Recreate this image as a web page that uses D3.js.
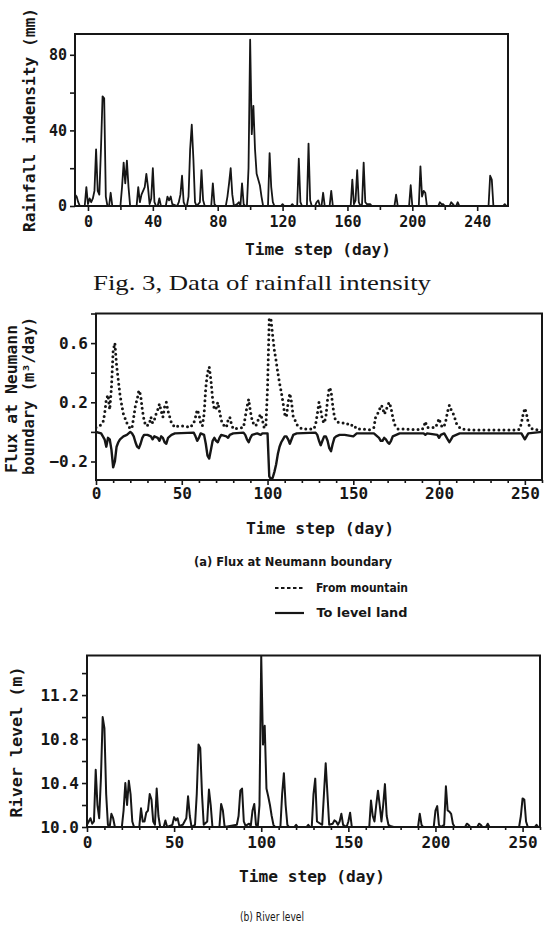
<!DOCTYPE html>
<html><head><meta charset="utf-8">
<script src="https://cdn.jsdelivr.net/npm/d3@7"></script>
<style>
body{margin:0;background:#fff;}
svg{display:block;}
</style></head><body>
<svg id="fig" width="551" height="926"></svg>
<script>
// ---------- Fig. 3 : rainfall intensity (mm) ----------
const rainDay = [-8,-7,-6,-5,-3,-2,-1,0,1,2,3,4,5,6,7,8,9,10,11,12,13,14,15,20,21,22,23,24,25,26,30,31,32,33,34,35,36,37,38,39,40,41,42,43,44,45,48,49,50,51,52,55,56,57,58,59,60,61,62,63,64,65,66,67,68,69,70,71,72,76,77,78,79,85,86,87,88,89,90,92,93,94,95,96,97,98,99,100,101,102,103,104,105,106,107,108,111,112,113,114,115,119,120,121,125,126,127,129,130,131,132,135,136,137,138,140,141,142,143,144,145,146,149,150,151,162,163,164,165,166,167,168,169,170,171,172,173,174,175,189,190,191,198,199,200,204,205,206,207,208,209,216,217,218,219,220,223,224,225,226,227,228,229,247,248,249,250,256,257,258,259];
const rainMm  = [6,5,2,0,0,0,10,1,4,2,4,8,30,8,6,30,58,57,5,0,0,7,0,0,10,23,12,24,10,0,0,10,2,6,8,10,17,10,1,4,20,2,0,0,4,0,0,5,3,5,1,0,2,6,16,2,0,0,5,30,43,25,2,0,1,2,19,3,0,0,12,1,0,0,5,12,20,6,0,1,2,0,12,1,0,0,20,88,38,53,30,17,14,11,5,0,0,28,10,2,0,0,1,0,0,1,0,0,25,2,0,0,33,3,0,0,2,3,0,0,7,0,0,8,0,0,14,1,3,19,2,0,1,23,2,1,1,1,0,0,6,0,0,11,0,0,21,5,8,7,0,0,2,1,1,0,0,2,1,0,0,2,0,0,16,14,0,0,1,0,0];
const rainXTicks = [0,40,80,120,160,200,240];
const rainYTicks = [0,40,80];

// ---------- (a) Flux at Neumann boundary (m3/day) ----------
const mtnDay = [0,2,4,5,6,7,8,9,10,11,12,13,14,15,16,18,20,21,22,23,24,25,26,27,28,29,31,32,33,34,35,36,37,38,39,40,41,42,43,44,46,48,52,55,57,58,59,60,61,62,63,64,65,66,67,68,69,70,71,72,73,74,76,77,78,79,80,86,87,88,89,90,91,92,93,94,95,96,97,98,99,100,101,102,103,104,105,106,107,108,109,110,111,112,113,114,115,116,117,118,120,127,128,129,130,131,132,133,134,135,136,137,138,139,140,143,146,148,150,152,160,162,163,164,165,166,167,168,169,170,171,172,173,174,176,190,191,192,193,198,199,200,201,202,203,204,205,206,207,208,209,210,211,213,220,246,247,248,249,250,251,252,253,255,260];
const mtnFlux = [0.03,0.04,0.06,0.12,0.22,0.25,0.15,0.3,0.55,0.6,0.45,0.35,0.25,0.18,0.12,0.06,0.02,0.03,0.1,0.18,0.22,0.28,0.25,0.15,0.08,0.04,0.05,0.1,0.06,0.08,0.12,0.15,0.19,0.14,0.1,0.17,0.2,0.14,0.1,0.06,0.03,0.04,0.04,0.03,0.06,0.1,0.15,0.12,0.06,0.04,0.12,0.3,0.4,0.44,0.35,0.22,0.15,0.16,0.2,0.14,0.08,0.05,0.03,0.08,0.1,0.05,0.02,0.03,0.1,0.17,0.22,0.14,0.08,0.05,0.04,0.06,0.1,0.12,0.08,0.03,0.03,0.3,0.77,0.76,0.65,0.55,0.48,0.4,0.33,0.27,0.2,0.12,0.1,0.2,0.26,0.2,0.1,0.08,0.05,0.04,0.02,0.02,0.05,0.12,0.2,0.15,0.08,0.06,0.1,0.22,0.3,0.28,0.18,0.1,0.07,0.06,0.06,0.04,0.05,0.02,0.015,0.03,0.1,0.12,0.14,0.18,0.17,0.12,0.14,0.18,0.2,0.16,0.1,0.05,0.02,0.015,0.03,0.07,0.03,0.03,0.06,0.09,0.05,0.03,0.04,0.08,0.14,0.18,0.15,0.13,0.1,0.06,0.04,0.02,0.012,0.012,0.02,0.06,0.12,0.16,0.12,0.06,0.03,0.015,0.012];
const landDay = [0,3,5,6,7,8,9,10,11,12,13,14,16,18,20,21,22,23,24,25,26,27,28,30,32,33,34,36,37,38,39,40,41,42,44,46,57,58,59,60,61,63,64,65,66,67,68,69,70,71,72,73,76,77,78,80,86,87,88,89,90,91,94,96,97,100,101,102,103,104,105,106,107,108,109,110,111,112,113,114,115,117,128,129,130,131,132,133,134,135,136,137,138,139,140,142,145,150,152,162,164,165,166,167,168,169,170,171,172,173,175,177,191,192,193,199,200,201,203,205,206,207,208,210,212,248,249,250,251,252,260];
const landFlux = [0,-0.01,-0.05,-0.1,-0.04,-0.05,-0.12,-0.24,-0.2,-0.1,-0.07,-0.05,-0.03,-0.02,0,-0.01,-0.03,-0.07,-0.1,-0.11,-0.08,-0.04,-0.02,-0.02,-0.03,-0.05,-0.03,-0.04,-0.06,-0.03,-0.04,-0.07,-0.08,-0.04,-0.02,-0.01,-0.005,-0.03,-0.06,-0.04,-0.01,-0.02,-0.08,-0.16,-0.18,-0.12,-0.06,-0.04,-0.06,-0.07,-0.04,-0.02,-0.03,-0.04,-0.02,-0.01,-0.005,-0.02,-0.05,-0.07,-0.04,-0.02,-0.01,-0.02,-0.01,-0.01,-0.3,-0.32,-0.31,-0.27,-0.22,-0.15,-0.1,-0.07,-0.05,-0.03,-0.03,-0.05,-0.08,-0.05,-0.02,-0.01,-0.005,-0.02,-0.06,-0.09,-0.06,-0.03,-0.03,-0.06,-0.11,-0.13,-0.08,-0.04,-0.03,-0.02,-0.02,-0.03,-0.01,-0.01,-0.03,-0.04,-0.06,-0.06,-0.04,-0.05,-0.07,-0.08,-0.06,-0.03,-0.02,-0.01,-0.01,-0.02,-0.01,-0.02,-0.04,-0.02,-0.01,-0.05,-0.07,-0.05,-0.03,-0.02,-0.01,-0.01,-0.03,-0.05,-0.03,-0.01,0];
const fluxXTicks = [0,50,100,150,200,250];
const fluxYTicks = [-0.2,0.2,0.6];
const fluxYMinor = [0,0.4,0.8];

// ---------- (b) River level (m) ----------
const riverDay = [0,1,2,3,4,5,6,7,8,9,10,11,12,13,14,15,16,20,21,22,23,24,25,26,27,30,31,32,33,34,35,36,37,38,39,40,41,42,44,45,46,49,50,51,52,53,55,56,57,58,59,60,62,63,64,65,66,67,69,70,71,72,76,77,78,79,86,87,88,89,90,91,93,94,95,96,97,98,99,100,101,102,103,104,105,106,107,108,111,112,113,114,115,116,119,120,121,126,127,128,129,130,131,132,135,136,137,138,139,141,142,143,144,145,146,147,149,150,151,152,162,163,164,165,166,167,168,169,170,171,172,173,174,176,190,191,192,193,199,200,201,202,203,205,206,207,208,209,210,211,217,218,219,220,224,225,226,227,229,230,231,248,249,250,251,252,253,257,258,259,260];
const riverLevel = [10.02,10.05,10.08,10.03,10.05,10.52,10.2,10.08,10.45,11.0,10.9,10.3,10.02,10.0,10.12,10.08,10.0,10.0,10.15,10.4,10.2,10.42,10.3,10.05,10.0,10.0,10.17,10.05,10.05,10.13,10.15,10.3,10.25,10.05,10.02,10.35,10.1,10.0,10.0,10.06,10.0,10.02,10.09,10.06,10.08,10.01,10.02,10.05,10.08,10.28,10.1,10.0,10.02,10.3,10.75,10.72,10.3,10.02,10.05,10.34,10.2,10.0,10.0,10.21,10.15,10.0,10.02,10.1,10.33,10.35,10.05,10.01,10.03,10.01,10.15,10.21,10.02,10.0,10.2,11.56,10.75,10.92,10.35,10.28,10.2,10.1,10.02,10.0,10.0,10.3,10.49,10.2,10.02,10.0,10.0,10.02,10.0,10.0,10.02,10.0,10.0,10.3,10.44,10.05,10.02,10.3,10.58,10.3,10.02,10.03,10.06,10.05,10.02,10.05,10.12,10.02,10.0,10.05,10.13,10.0,10.0,10.24,10.1,10.05,10.2,10.33,10.2,10.05,10.2,10.39,10.1,10.02,10.01,10.0,10.0,10.12,10.02,10.0,10.0,10.15,10.19,10.02,10.0,10.02,10.37,10.15,10.14,10.12,10.03,10.0,10.0,10.03,10.02,10.0,10.0,10.03,10.02,10.0,10.0,10.03,10.0,10.0,10.1,10.26,10.25,10.05,10.0,10.0,10.02,10.0,10.0];
const riverXTicks = [0,50,100,150,200,250];
const riverYTicks = [10.0,10.4,10.8,11.2];
const riverYMinor = [10.2,10.6,11.0,11.4];

// ---------- drawing ----------
const svg = d3.select("#fig");
const ink = "#161616";
const MONO = "'DejaVu Sans Mono', monospace";
const COND = "'DejaVu Sans Condensed', 'DejaVu Sans', sans-serif";

function zip(a, b){ return a.map((d,i)=>[d,b[i]]); }

function panel(cfg){
  const g = svg.append("g");
  const x = cfg.x, y = cfg.y;
  const [xl, xr] = x.range();
  const [yb, yt] = y.range();
  const cid = "clip-" + cfg.name;
  svg.append("clipPath").attr("id", cid).append("rect")
     .attr("x", xl).attr("y", yt).attr("width", xr - xl).attr("height", yb - yt);

  const styleAxis = s => {
    s.select(".domain").remove();
    s.selectAll(".tick line").attr("stroke", ink).attr("stroke-width", 1.6);
    s.selectAll(".tick text").attr("fill", ink).attr("font-family", MONO)
      .attr("font-weight", "bold").attr("font-size", cfg.tickFont);
  };
  g.append("g").attr("transform", `translate(0,${yb})`)
    .call(d3.axisBottom(x).tickValues(cfg.xMinor).tickSize(cfg.minorLen).tickFormat(""))
    .call(styleAxis);
  g.append("g").attr("transform", `translate(0,${yb})`)
    .call(d3.axisBottom(x).tickValues(cfg.xMajor).tickSize(cfg.majorLen).tickPadding(cfg.xPad).tickFormat(d3.format("d")))
    .call(styleAxis);
  g.append("g").attr("transform", `translate(${xl},0)`)
    .call(d3.axisLeft(y).tickValues(cfg.yMinor).tickSize(cfg.majorLen).tickFormat(""))
    .call(styleAxis);
  g.append("g").attr("transform", `translate(${xl},0)`)
    .call(d3.axisLeft(y).tickValues(cfg.yMajor).tickSize(cfg.majorLen).tickPadding(cfg.yPad).tickFormat(cfg.yFmt))
    .call(styleAxis);

  cfg.series.forEach(s => {
    g.append("path").datum(s.data)
      .attr("clip-path", `url(#${cid})`)
      .attr("fill", "none").attr("stroke", ink)
      .attr("stroke-width", s.width)
      .attr("stroke-linejoin", "round")
      .attr("stroke-linecap", s.dash ? "round" : "butt")
      .attr("stroke-dasharray", s.dash || null)
      .attr("d", d3.line().x(d => x(d[0])).y(d => y(d[1])));
  });

  g.append("rect").attr("x", xl).attr("y", yt).attr("width", xr - xl).attr("height", yb - yt)
    .attr("fill", "none").attr("stroke", ink).attr("stroke-width", 2);
  return g;
}

function label(txt, x, y, opt){
  const t = svg.append("text").attr("x", x).attr("y", y)
    .attr("text-anchor", "middle").attr("fill", ink)
    .attr("font-family", opt.font || MONO)
    .attr("font-weight", opt.weight || "bold")
    .attr("font-size", opt.size)
    .text(txt);
  if (opt.len) t.attr("textLength", opt.len).attr("lengthAdjust", "spacingAndGlyphs");
  if (opt.rot) t.attr("transform", `rotate(-90,${x},${y})`);
  return t;
}

// Panel 1: rainfall
const xR = d3.scaleLinear([-8, 259], [75, 508]);
const yR = d3.scaleLinear([0, 91], [206, 34]);
panel({
  name: "rain", x: xR, y: yR,
  xMajor: rainXTicks, xMinor: d3.range(20, 259, 40),
  yMajor: rainYTicks, yMinor: [20, 60],
  majorLen: 5, minorLen: 4, xPad: 5, yPad: 3, tickFont: 15,
  yFmt: d3.format("d"),
  series: [{ data: zip(rainDay, rainMm), width: 1.8 }]
});
label("Rainfall indensity (mm)", 35, 120, { size: 16, rot: true, len: 224 });
label("Time step (day)", 318, 255, { size: 15, len: 146 });
label("Fig. 3,  Data of rainfall intensity", 262, 290,
  { size: 22, font: "'Liberation Serif', 'DejaVu Serif', serif", weight: "normal", len: 338 });

// Panel 2: flux
const xF = d3.scaleLinear([0, 260], [96, 542]);
const yF = d3.scaleLinear([-0.325, 0.8], [480, 313.5]);
panel({
  name: "flux", x: xF, y: yF,
  xMajor: fluxXTicks, xMinor: d3.range(0, 261, 10).filter(v => v % 50 !== 0),
  yMajor: fluxYTicks, yMinor: fluxYMinor,
  majorLen: 5, minorLen: 3, xPad: 3, yPad: 3, tickFont: 16,
  yFmt: d => d3.format(".1f")(d),
  series: [
    { data: zip(mtnDay, mtnFlux), width: 3, dash: "0,5" },
    { data: zip(landDay, landFlux), width: 2.4 }
  ]
});
label("Flux at Neumann", 17, 399, { size: 15, rot: true, len: 148 });
label("boundary (m\u00B3/day)", 34, 396, { size: 15, rot: true, len: 158 });
label("Time step (day)", 320, 534, { size: 15, len: 148 });
label("(a) Flux at Neumann boundary", 293, 566, { size: 12, font: COND, len: 198 });
const legY1 = 588, legY2 = 613;
svg.append("line").attr("x1", 275).attr("x2", 303).attr("y1", legY1).attr("y2", legY1)
  .attr("stroke", ink).attr("stroke-width", 2).attr("stroke-dasharray", "3.5,2.5");
svg.append("line").attr("x1", 275).attr("x2", 304).attr("y1", legY2).attr("y2", legY2)
  .attr("stroke", ink).attr("stroke-width", 2.2);
label("From mountain", 362, legY1 + 4, { size: 12, font: COND, len: 92 });
label("To level land", 362, legY2 + 4, { size: 12, font: COND, len: 91 });

// Panel 3: river level
const xV = d3.scaleLinear([0, 260], [87, 540]);
const yV = d3.scaleLinear([10, 11.56], [827, 655.5]);
panel({
  name: "river", x: xV, y: yV,
  xMajor: riverXTicks, xMinor: d3.range(0, 261, 10).filter(v => v % 50 !== 0),
  yMajor: riverYTicks, yMinor: riverYMinor,
  majorLen: 5, minorLen: 3, xPad: 5, yPad: 3, tickFont: 16,
  yFmt: d => d3.format(".1f")(d),
  series: [{ data: zip(riverDay, riverLevel), width: 2 }]
});
label("River level (m)", 22, 742, { size: 16, rot: true, len: 151 });
label("Time step (day)", 312, 882, { size: 15, len: 146 });
label("(b) River level", 272, 921, { size: 12, font: COND, weight: "normal", len: 64 });
</script>
</body></html>
